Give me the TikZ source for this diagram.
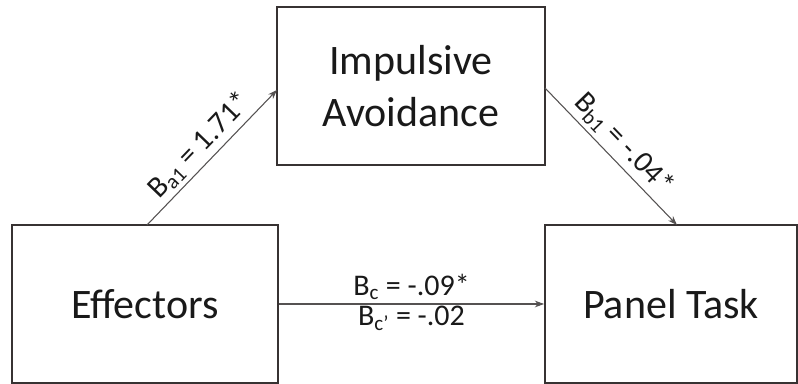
\documentclass[tikz,border=0pt]{standalone}
\usepackage{fontspec}
\setmainfont{Carlito}
\usetikzlibrary{arrows.meta}
\definecolor{boxline}{RGB}{55,50,50}
\definecolor{pathline}{RGB}{85,82,82}
\tikzset{path/.style={-{Stealth[length=7pt,width=5pt]},pathline,line width=0.8pt},
 coef/.style={font=\fontsize{22.5}{26}\selectfont,text=black!90}}

\begin{document}
\begin{tikzpicture}[x=0.75pt,y=0.75pt,box/.style={draw=boxline,line width=1.3pt,inner sep=0pt,align=center,minimum height=118.5pt,font=\fontsize{31.5}{39}\selectfont,text=black!90}]
\useasboundingbox (0,0) rectangle (798,384);
\node[box,minimum width=201pt] (IA) at (411,298) {Impulsive\\Avoidance};
\node[box,minimum width=199.5pt] (E) at (145,80) {Effectors};
\node[box,minimum width=189pt] (P) at (671,80) {Panel Task};
\coordinate (a) at (147,159);
\coordinate (b) at (277,294);
\coordinate (c) at (545,296);
\coordinate (d) at (677,159);
\draw[path] (a)--(b) node[coef,midway,above,sloped,inner sep=3pt] {B\textsubscript{a1} = 1.71*};
\draw[path] (c)--(d) node[coef,midway,above,sloped,inner sep=3pt] {B\textsubscript{b1} = -.04*};
\draw[path] (E.east)--(P.west)
 node[coef,midway,above,inner sep=3pt] {B\textsubscript{c} = -.09*}
 node[coef,midway,below,inner sep=1pt] {B\textsubscript{c’} = -.02};
\end{tikzpicture}
\end{document}
